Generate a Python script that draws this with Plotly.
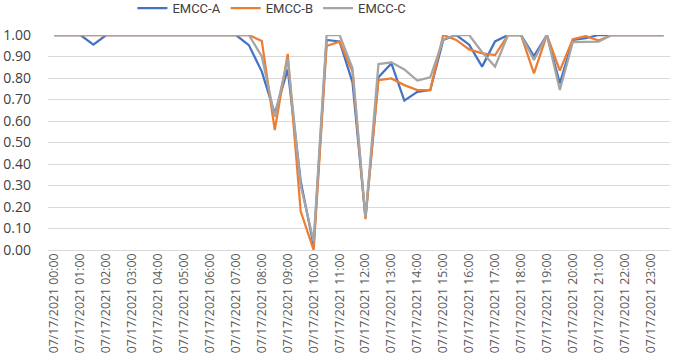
import plotly.graph_objects as go

# half-hour categories on 07/17/2021
categories = [f"07/17/2021 {h:02d}:{m:02d}" for h in range(24) for m in (0, 30)]
tick_labels = [f"07/17/2021 {h:02d}:00" for h in range(24)]

emcc_a = [1.00, 1.00, 1.00, 0.955, 1.00, 1.00, 1.00, 1.00, 1.00, 1.00,
          1.00, 1.00, 1.00, 1.00, 1.00, 0.953, 0.83, 0.635, 0.84, 0.32,
          0.02, 0.977, 0.97, 0.78, 0.15, 0.803, 0.868, 0.695, 0.736, 0.744,
          0.977, 1.00, 0.955, 0.853, 0.97, 1.00, 1.00, 0.902, 1.00, 0.775,
          0.977, 0.985, 1.00, 1.00, 1.00, 1.00, 1.00, 1.00]

emcc_b = [1.00, 1.00, 1.00, 1.00, 1.00, 1.00, 1.00, 1.00, 1.00, 1.00,
          1.00, 1.00, 1.00, 1.00, 1.00, 1.00, 0.972, 0.558, 0.912, 0.18,
          0.00, 0.949, 0.969, 0.83, 0.143, 0.79, 0.798, 0.767, 0.744, 0.744,
          1.00, 0.977, 0.933, 0.915, 0.907, 1.00, 1.00, 0.822, 1.00, 0.834,
          0.981, 0.995, 0.974, 1.00, 1.00, 1.00, 1.00, 1.00]

emcc_c = [1.00, 1.00, 1.00, 1.00, 1.00, 1.00, 1.00, 1.00, 1.00, 1.00,
          1.00, 1.00, 1.00, 1.00, 1.00, 1.00, 0.90, 0.62, 0.89, 0.30,
          0.04, 1.00, 1.00, 0.845, 0.15, 0.865, 0.873, 0.84, 0.788, 0.803,
          0.98, 1.00, 1.00, 0.92, 0.853, 1.00, 1.00, 0.884, 1.00, 0.744,
          0.967, 0.969, 0.969, 1.00, 1.00, 1.00, 1.00, 1.00]

y_ticks = [0.0, 0.1, 0.2, 0.3, 0.4, 0.5, 0.6, 0.7, 0.8, 0.9, 1.0]

series = [("EMCC-A", emcc_a, "#4472C4"),
          ("EMCC-B", emcc_b, "#ED7D31"),
          ("EMCC-C", emcc_c, "#A5A5A5")]

fig = go.Figure()
for name, vals, color in series:
    fig.add_trace(go.Scatter(x=categories, y=vals, mode="lines", name=name,
                             line=dict(color=color, width=2.25)))

fig.update_layout(
    width=675, height=359,
    margin=dict(l=48, r=5, t=35, b=109, pad=0, autoexpand=False),
    paper_bgcolor="white", plot_bgcolor="white",
    font=dict(family="Open Sans, DejaVu Sans, sans-serif", color="#404040"),
    showlegend=True,
    legend=dict(orientation="h", x=0.36, xanchor="center",
                y=1.125, yanchor="middle",
                font=dict(size=13, color="#404040", family="Roboto, sans-serif"),
                itemwidth=30, tracegroupgap=0,
                bgcolor="rgba(0,0,0,0)"),
    xaxis=dict(type="category", categoryorder="array", categoryarray=categories,
               range=[-0.5, len(categories) - 0.5],
               tickmode="array", tickvals=tick_labels, ticktext=tick_labels,
               tickangle=-90, tickfont=dict(size=12.3, color="#595959"),
               showgrid=False, showline=False, zeroline=False, ticks=""),
    yaxis=dict(range=[0, 1.0], tickmode="array", tickvals=y_ticks,
               tickformat=".2f", tickfont=dict(size=14, color="#404040"),
               showgrid=True, gridcolor="#D9D9D9", gridwidth=1,
               zeroline=True, zerolinecolor="#D9D9D9", zerolinewidth=1,
               showline=False, ticks="", ticklabelstandoff=16),
)

fig.write_html("out.html",
               config={"displayModeBar": False},
               post_script="document.body.style.margin='0';document.body.style.overflow='hidden';")
